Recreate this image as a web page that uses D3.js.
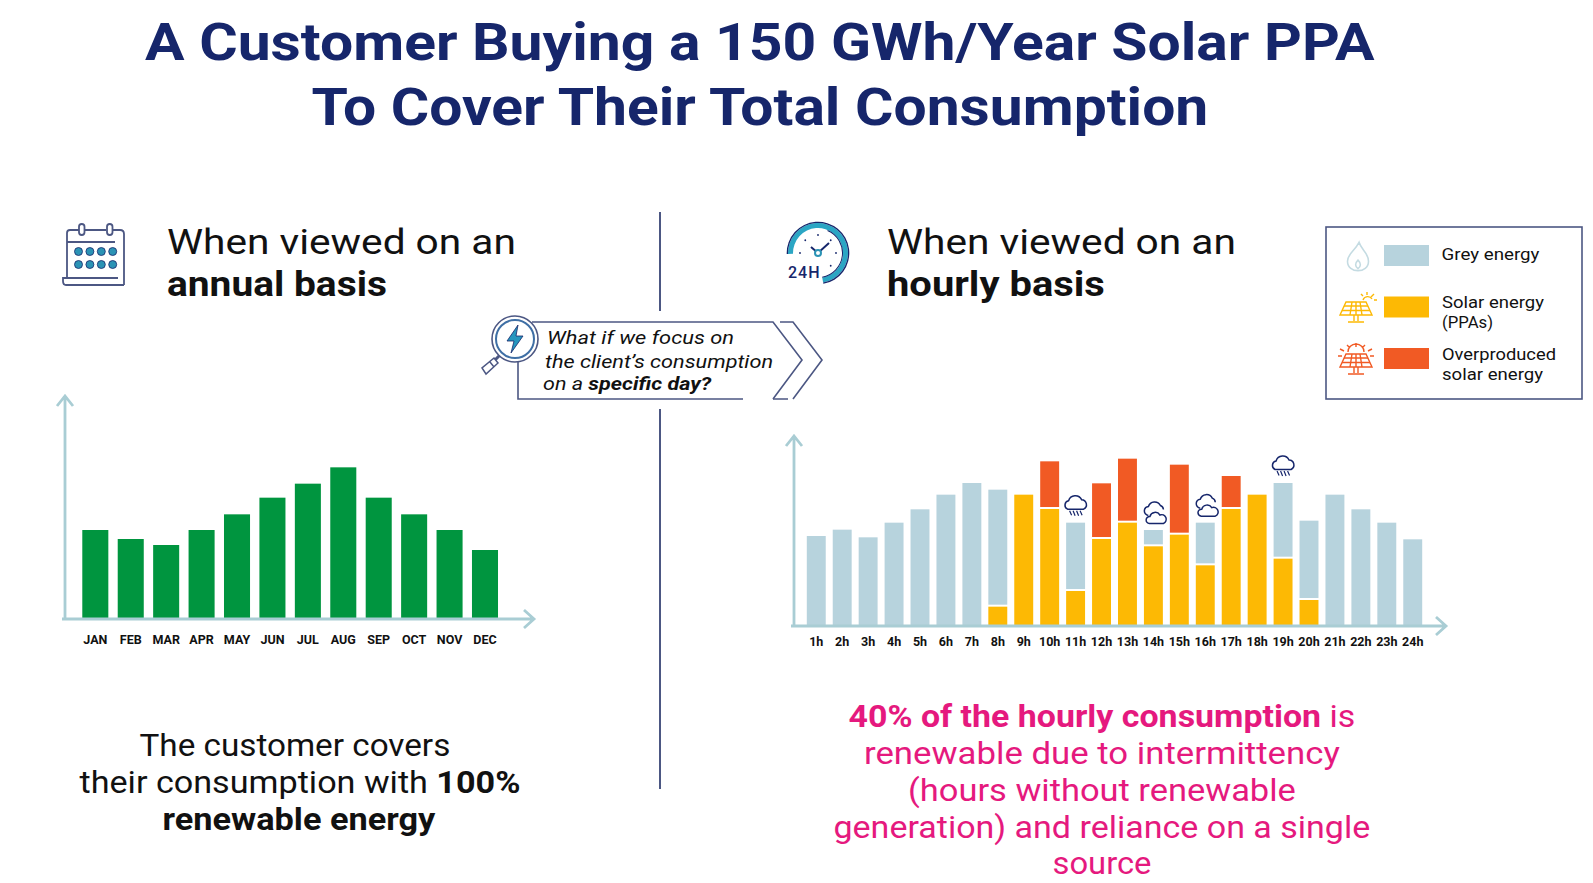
<!DOCTYPE html>
<html>
<head>
<meta charset="utf-8">
<script src="https://cdn.jsdelivr.net/npm/d3@7"></script>
<style>
  html, body { margin: 0; background: #fff; }
  svg { display: block; }
  text { font-family: Roboto, sans-serif; }
</style>
</head>
<body>
<svg id="chart" width="1593" height="883"></svg>
<script>
// Data (relative units, no axis values in the original)
const months = ['JAN', 'FEB', 'MAR', 'APR', 'MAY', 'JUN', 'JUL', 'AUG', 'SEP', 'OCT', 'NOV', 'DEC'];
const monthly = [267, 240, 222, 267, 314, 364, 406, 455, 364, 314, 267, 207];

const hours = ['1h', '2h', '3h', '4h', '5h', '6h', '7h', '8h', '9h', '10h', '11h', '12h',
  '13h', '14h', '15h', '16h', '17h', '18h', '19h', '20h', '21h', '22h', '23h', '24h'];
const solar = [0, 0, 0, 0, 0, 0, 0, 58, 394, 351, 105, 261, 310, 239, 274, 182, 351, 394, 202, 78, 0, 0, 0, 0];
const grey = [270, 289, 266, 310, 350, 394, 429, 351, 0, 0, 205, 0, 0, 49, 0, 128, 0, 0, 227, 238, 394, 350, 310, 260];
const over = [0, 0, 0, 0, 0, 0, 0, 0, 0, 143, 0, 167, 192, 0, 210, 0, 99, 0, 0, 0, 0, 0, 0, 0];
const rainHours = ['11h', '19h'];
const cloudHours = ['14h', '16h'];

const legendItems = ['Grey energy', 'Solar energy', 'Overproduced'];

const NAVY = '#16266b', LINE = '#4c5783', AXIS = '#a9cdd4', INK = '#111';
const colors = { grey: '#b7d3dd', solar: '#fdb904', over: '#f15a24' };

const svg = d3.select('#chart');

// draws a text line and squeezes it to the width it has in the picture
function line(g, parts, x, y, size, width, opts = {}) {
  const t = g.append('text').attr('y', 0).attr('font-size', size)
    .attr('fill', opts.fill || INK).attr('font-style', opts.italic ? 'italic' : null);
  parts.forEach(p => {
    const bold = Array.isArray(p);
    t.append('tspan').attr('font-weight', bold ? 700 : 400)
      .attr('xml:space', 'preserve').text(bold ? p[0] : p);
  });
  t.style('white-space', 'pre');
  const w = t.node().getComputedTextLength();
  const sx = width / w;
  const left = opts.center ? x - width / 2 : x;
  t.attr('transform', `translate(${left},${y}) scale(${sx},1)`);
  return t;
}

// ---- titles
line(svg, [['A Customer Buying a 150 GWh/Year Solar PPA']], 760, 60, 52, 1230, { center: true, fill: NAVY });
line(svg, [['To Cover Their Total Consumption']], 760, 125, 52, 897, { center: true, fill: NAVY });

line(svg, ['When viewed on an'], 167, 254, 35.5, 349);
line(svg, [['annual basis']], 167, 296, 35.5, 220);
line(svg, ['When viewed on an'], 887, 254, 35.5, 349);
line(svg, [['hourly basis']], 887, 296, 35.5, 218);

// ---- divider
svg.append('path').attr('d', 'M660,212V311M660,409V789').attr('stroke', LINE).attr('stroke-width', 2).attr('fill', 'none');

// ---- axis helper: lines with open arrow heads
function arrows(x0, yBase, yTop, xEnd) {
  svg.append('path')
    .attr('d', `M${x0 - 8},${yTop + 10}L${x0},${yTop}L${x0 + 8},${yTop + 10}M${x0},${yTop}V${yBase}M${x0 - 3},${yBase}H${xEnd}M${xEnd - 10},${yBase - 9}L${xEnd},${yBase}L${xEnd - 10},${yBase + 9}`)
    .attr('fill', 'none').attr('stroke', AXIS).attr('stroke-width', 2.8);
}

function labels(x, yBase, dist) {
  const ax = svg.append('g').attr('transform', `translate(0,${yBase})`)
    .call(d3.axisBottom(x).tickSize(0));
  ax.select('.domain').remove();
  ax.selectAll('text').attr('y', dist).attr('dy', '.35em')
    .attr('font-family', 'Roboto, sans-serif').attr('font-size', 12.5).attr('font-weight', 700)
    .attr('fill', INK);
}

// ---- left chart
const baseL = 619;
const xL = d3.scaleBand().domain(months).range([77.6, 502.7]).paddingInner(0.265).paddingOuter(0.1325);
const yL = d3.scaleLinear().domain([0, 455]).range([baseL, baseL - 455 / 3]);
svg.append('g').selectAll('rect').data(months).join('rect')
  .attr('x', d => xL(d)).attr('width', xL.bandwidth())
  .attr('y', (d, i) => yL(monthly[i])).attr('height', (d, i) => yL(0) - yL(monthly[i]))
  .attr('fill', '#00953f');
arrows(65, baseL, 396, 534);
labels(xL, baseL, 20.5);

// ---- right chart
const baseR = 626;
const xR = d3.scaleBand().domain(hours).range([803.3, 1425.7]).paddingInner(0.27).paddingOuter(0.135);
const yR = d3.scaleLinear().domain([0, 502]).range([baseR, baseR - 502 / 3]);
const rows = hours.map((h, i) => ({ hour: h, solar: solar[i], grey: grey[i], over: over[i] }));
const stack = d3.stack().keys(['solar', 'grey', 'over'])(rows);
svg.append('g').selectAll('g').data(stack).join('g')
  .attr('fill', s => colors[s.key])
  .selectAll('rect').data(s => s.filter(d => d[1] > d[0])).join('rect')
  .attr('x', d => xR(d.data.hour)).attr('width', xR.bandwidth())
  .attr('y', d => yR(d[1]))
  .attr('height', d => yR(d[0]) - yR(d[1]) - (d[0] > 0 ? 2 : 0));
arrows(794, baseR, 436, 1446);
labels(xR, baseR, 16);

// ---- weather icons above the bars
const cloudPath = 'M-8,2a4.5,4.5 0 0 1 1,-8.5a7,7 0 0 1 13,-1a5,5 0 0 1 2,9.5z';
function topOf(h) {
  const i = hours.indexOf(h);
  return yR(solar[i] + grey[i] + over[i]);
}
rainHours.forEach(h => {
  const g = svg.append('g').attr('transform', `translate(${xR(h) + xR.bandwidth() / 2},${topOf(h) - 15.5})`)
    .attr('fill', 'none').attr('stroke', NAVY).attr('stroke-width', 1.5);
  g.append('path').attr('d', cloudPath);
  g.append('path').attr('d', 'M-6,3.5L-4,8M-2.5,3.5L-.5,8.5M1,3.5L3,8.5M4.5,3.5L6.5,8').attr('stroke-width', 1.2);
});
cloudHours.forEach(h => {
  const g = svg.append('g').attr('transform', `translate(${xR(h) + xR.bandwidth() / 2},${topOf(h) - 15.5})`)
    .attr('fill', 'none').attr('stroke', NAVY).attr('stroke-width', 1.5);
  g.append('path').attr('d', 'M-5,1a4.5,4.5 0 0 1 -4,-5a4.5,4.5 0 0 1 4,-4a6.5,6.5 0 0 1 12,-1a4.5,4.5 0 0 1 3,4');
  g.append('path').attr('d', 'M-4,9a3.5,3.5 0 0 1 .5,-7a5.5,5.5 0 0 1 10,-1.5a4.5,4.5 0 0 1 3.5,8.5z').attr('fill', '#fff');
});

// ---- callout
const call = svg.append('g').attr('fill', 'none').attr('stroke', LINE).attr('stroke-width', 1.6);
call.append('path').attr('d', 'M532,322H773L802,360L773,399M743,399H518V360');
call.append('path').attr('d', 'M780,322H793L822,360L793,399M773,399H788');
const lens = svg.append('g').attr('transform', 'translate(515,339)');
lens.append('path').attr('d', 'M-14,15L-20,21').attr('stroke', LINE).attr('stroke-width', 3);
lens.append('path').attr('d', 'M-21,19L-33,29L-29,35L-17,24zM-25,23L-21,28').attr('fill', '#fff').attr('stroke', LINE).attr('stroke-width', 1.5);
lens.append('circle').attr('r', 23).attr('fill', '#fff').attr('stroke', LINE).attr('stroke-width', 1.6);
lens.append('circle').attr('r', 19).attr('fill', '#fff').attr('stroke', '#3f6fa5').attr('stroke-width', 2);
lens.append('path').attr('d', 'M3,-14L-8,2H-1L-4,14L8,-3H1z').attr('fill', '#2596be').attr('stroke', NAVY).attr('stroke-width', .8);

line(svg, ['What if we focus on'], 547, 344, 18.7, 187, { italic: true });
line(svg, ['the client\u2019s consumption'], 545, 368, 18.7, 228, { italic: true });
line(svg, ['on a ', ['specific day?']], 543, 390, 18.7, 168, { italic: true });

// ---- legend
svg.append('rect').attr('x', 1326).attr('y', 227).attr('width', 256).attr('height', 172)
  .attr('fill', '#fff').attr('stroke', LINE).attr('stroke-width', 1.6);
const swatchY = d3.scalePoint().domain(legendItems).range([245, 348]);
svg.append('g').selectAll('rect').data(legendItems).join('rect')
  .attr('x', 1384).attr('width', 45).attr('height', 21)
  .attr('y', d => swatchY(d))
  .attr('fill', (d, i) => [colors.grey, colors.solar, colors.over][i]);
line(svg, ['Grey energy'], 1441.5, 260, 17, 98);
line(svg, ['Solar energy'], 1442, 308, 17, 102);
line(svg, ['(PPAs)'], 1442, 328, 17, 51);
line(svg, ['Overproduced'], 1442, 360, 17, 114);
line(svg, ['solar energy'], 1442, 380, 17, 101);

// legend icons
svg.append('path').attr('transform', 'translate(1358,257) scale(1.05)')
  .attr('d', 'M1,-14C3,-7 10,-4 10,4C10,10 5,13 0,13C-5,13 -10,10 -10,4C-10,-3 -3,-6 1,-14zM0,3C3,6 3,9 0,11C-3,9 -3,6 0,3z')
  .attr('fill', 'none').attr('stroke', '#c4dbe2').attr('stroke-width', 1.5);

function panel(cx, cy, color, rays) {
  const g = svg.append('g').attr('transform', `translate(${cx},${cy})`)
    .attr('fill', 'none').attr('stroke', color).attr('stroke-width', 1.4);
  g.append('path').attr('d', 'M-10,-7H10L16,6H-16z');
  g.append('path').attr('d', 'M-12,-3H12M-14,1.5H14M-4,-7L-6,6M0,-7V6M4,-7L6,6');
  g.append('path').attr('d', 'M-2,6V12M2,6V12M-8,13H8');
  g.append('path').attr('d', rays);
}
panel(1356, 309, colors.solar, 'M7,-9a5,5 0 0 1 9,-1M11,-17V-14M18,-15L15,-12M5,-15L7,-13M21,-9H18');
panel(1356, 361, colors.over, 'M-8,-9a8,8 0 0 1 16,0M0,-18V-14M-9,-16L-6,-13M9,-16L6,-13M-16,-12L-12,-10M16,-12L12,-10M-18,-5L-14,-5M18,-5L14,-5');

// calendar icon
const cal = svg.append('g').attr('fill', 'none').attr('stroke', LINE).attr('stroke-width', 1.8);
cal.append('path').attr('d', 'M79,230H70Q67,230 67,233V278M85,230H106M112,230H120Q124,230 124,234V285M67,242H115M124,285H66Q63,285 63,281V278H118');
cal.append('rect').attr('x', 79).attr('y', 224).attr('width', 5.5).attr('height', 11).attr('rx', 2.7);
cal.append('rect').attr('x', 107).attr('y', 224).attr('width', 5.5).attr('height', 11).attr('rx', 2.7);
d3.range(4).forEach(i => d3.range(2).forEach(j => {
  svg.append('circle').attr('cx', 78.5 + i * 11.4).attr('cy', 251.5 + j * 13).attr('r', 4)
    .attr('fill', '#2b93b5').attr('stroke', NAVY).attr('stroke-width', .8);
}));

// clock icon
const clock = svg.append('g').attr('transform', 'translate(818,253)').attr('fill', 'none');
clock.append('path').attr('d', d3.arc().innerRadius(25).outerRadius(30).startAngle(-1.6).endAngle(2.97)())
  .attr('fill', '#2ba6c4');
clock.append('path').attr('d', d3.arc().innerRadius(30).outerRadius(31.3).startAngle(-1.6).endAngle(2.97)())
  .attr('fill', NAVY);
clock.append('path').attr('d', d3.arc().innerRadius(24).outerRadius(25).startAngle(0.4).endAngle(2.97)())
  .attr('fill', NAVY);
d3.range(8).forEach(i => {
  const a = i * Math.PI / 4;
  clock.append('circle').attr('cx', 18 * Math.sin(a)).attr('cy', -18 * Math.cos(a)).attr('r', .9).attr('fill', NAVY);
});
clock.append('path').attr('d', 'M-7,-6L0,0L11,-10').attr('stroke', NAVY).attr('stroke-width', 2);
clock.append('circle').attr('r', 3).attr('fill', '#fff').attr('stroke', '#2b93b5').attr('stroke-width', 2);
svg.append('rect').attr('x', 786).attr('y', 262).attr('width', 34).attr('height', 18).attr('fill', '#fff');
svg.append('text').attr('x', 788).attr('y', 278).attr('font-size', 16).attr('font-weight', 500).attr('fill', NAVY).attr('letter-spacing', 1).text('24H');

// ---- bottom notes
line(svg, ['The customer covers'], 295, 756, 31.5, 311, { center: true });
line(svg, ['their consumption with ', ['100%']], 300, 793, 31.5, 441, { center: true });
line(svg, [['renewable energy']], 299, 830, 31.5, 273, { center: true });

const PINK = '#e5197e';
line(svg, [['40% of the hourly consumption'], ' is'], 1102, 727, 31.5, 507, { center: true, fill: PINK });
line(svg, ['renewable due to intermittency'], 1102, 764, 31.5, 476, { center: true, fill: PINK });
line(svg, ['(hours without renewable'], 1102, 801, 31.5, 388, { center: true, fill: PINK });
line(svg, ['generation) and reliance on a single'], 1102, 838, 31.5, 537, { center: true, fill: PINK });
line(svg, ['source'], 1102, 874, 31.5, 99, { center: true, fill: PINK });
</script>
</body>
</html>
